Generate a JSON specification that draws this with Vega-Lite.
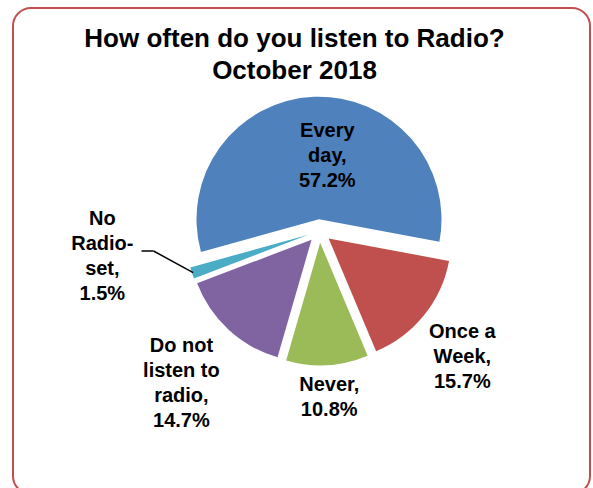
{
  "$schema": "https://vega.github.io/schema/vega-lite/v6.json",
  "width": 577,
  "height": 486,
  "autosize": {"type": "none"},
  "padding": {"left": 13, "top": 8, "right": 3, "bottom": 0},
  "background": "white",
  "view": {"stroke": "#C0504D", "strokeWidth": 2, "cornerRadius": 18, "fill": "white"},
  "config": {
    "view": {"stroke": "#C0504D", "strokeWidth": 2, "cornerRadius": 18},
    "font": "Liberation Sans"
  },
  "title": {
    "text": ["How often do you listen to Radio?", "October 2018"],
    "fontSize": 26,
    "fontWeight": "bold",
    "font": "Liberation Sans",
    "color": "#000000",
    "lineHeight": 32,
    "anchor": "middle",
    "frame": "group",
    "offset": -121,
    "dx": -7,
    "dy": 39
  },
  "data": {
    "values": [
      {"category": "Every day", "share": 57.2, "rank": 1, "label": "Every\nday,\n57.2%"},
      {"category": "Once a Week", "share": 15.7, "rank": 2, "label": "Once a\nWeek,\n15.7%"},
      {"category": "Never", "share": 10.8, "rank": 3, "label": "Never,\n10.8%"},
      {"category": "Do not listen to radio", "share": 14.7, "rank": 4, "label": "Do not\nlisten to\nradio,\n14.7%"},
      {"category": "No Radio-set", "share": 1.5, "rank": 5, "label": "No\nRadio-\nset,\n1.5%"}
    ]
  },
  "layer": [
    {
      "mark": {
        "type": "arc",
        "outerRadius": 122.5,
        "x": {"expr": "width/2+18+11.75*sin((scale('theta',datum.share_start)+scale('theta',datum.share_end))/2)"},
        "y": {"expr": "height/2-20-11.75*cos((scale('theta',datum.share_start)+scale('theta',datum.share_end))/2)"}
      },
      "encoding": {
        "theta": {"field": "share", "type": "quantitative", "stack": true, "scale": {"range": [4.4418, 10.725]}},
        "order": {"field": "rank", "type": "quantitative"},
        "color": {
          "field": "category",
          "type": "nominal",
          "scale": {
            "domain": ["Every day", "Once a Week", "Never", "Do not listen to radio", "No Radio-set"],
            "range": ["#4F81BD", "#C0504D", "#9BBB59", "#8064A2", "#4BACC6"]
          },
          "legend": null
        }
      }
    },
    {
      "transform": [
        {"stack": "share", "groupby": [], "sort": [{"field": "rank", "order": "ascending"}], "as": ["s0", "s1"]},
        {"filter": "datum.category === 'No Radio-set'"}
      ],
      "mark": {"type": "rule", "color": "#000000", "strokeWidth": 1.5},
      "encoding": {
        "x": {"value": {"expr": "width/2+18+133*sin((scale('theta',datum.s0)+scale('theta',datum.s1))/2)"}},
        "y": {"value": {"expr": "height/2-20-133*cos((scale('theta',datum.s0)+scale('theta',datum.s1))/2)"}},
        "x2": {"value": {"expr": "width/2+18-166"}},
        "y2": {"value": {"expr": "height/2-20+20"}}
      }
    },
    {
      "transform": [{"filter": "datum.category === 'No Radio-set'"}],
      "mark": {"type": "rule", "color": "#000000", "strokeWidth": 1.5},
      "encoding": {
        "x": {"value": {"expr": "width/2+18-178"}},
        "y": {"value": {"expr": "height/2-20+20"}},
        "x2": {"value": {"expr": "width/2+18-166"}},
        "y2": {"value": {"expr": "height/2-20+20"}}
      }
    },
    {
      "mark": {"type": "text", "radius": 75, "dx": 11, "dy": -25, "fontSize": 20, "fontWeight": "bold", "color": "#000000", "lineBreak": "\n", "lineHeight": 25, "align": "center", "baseline": "middle", "x": {"expr": "width/2+18"}, "y": {"expr": "height/2-20"}},
      "encoding": {
        "theta": {"field": "share", "type": "quantitative", "stack": true},
        "order": {"field": "rank", "type": "quantitative"},
        "text": {"condition": {"test": "datum.category !== 'Every day'", "value": ""}, "field": "label", "type": "nominal"}
      }
    },
    {
      "mark": {"type": "text", "radius": 190, "dx": -5, "dy": -18, "fontSize": 20, "fontWeight": "bold", "color": "#000000", "lineBreak": "\n", "lineHeight": 25, "align": "center", "baseline": "middle", "x": {"expr": "width/2+18"}, "y": {"expr": "height/2-20"}},
      "encoding": {
        "theta": {"field": "share", "type": "quantitative", "stack": true},
        "order": {"field": "rank", "type": "quantitative"},
        "text": {"condition": {"test": "datum.category !== 'Once a Week'", "value": ""}, "field": "label", "type": "nominal"}
      }
    },
    {
      "mark": {"type": "text", "radius": 167, "dy": -12.5, "fontSize": 20, "fontWeight": "bold", "color": "#000000", "lineBreak": "\n", "lineHeight": 25, "align": "center", "baseline": "middle", "x": {"expr": "width/2+18"}, "y": {"expr": "height/2-20"}},
      "encoding": {
        "theta": {"field": "share", "type": "quantitative", "stack": true},
        "order": {"field": "rank", "type": "quantitative"},
        "text": {"condition": {"test": "datum.category !== 'Never'", "value": ""}, "field": "label", "type": "nominal"}
      }
    },
    {
      "mark": {"type": "text", "radius": 204, "dy": -35, "fontSize": 20, "fontWeight": "bold", "color": "#000000", "lineBreak": "\n", "lineHeight": 25, "align": "center", "baseline": "middle", "x": {"expr": "width/2+18"}, "y": {"expr": "height/2-20"}},
      "encoding": {
        "theta": {"field": "share", "type": "quantitative", "stack": true},
        "order": {"field": "rank", "type": "quantitative"},
        "text": {"condition": {"test": "datum.category !== 'Do not listen to radio'", "value": ""}, "field": "label", "type": "nominal"}
      }
    },
    {
      "mark": {"type": "text", "radius": 217, "dx": -11, "dy": -80, "fontSize": 20, "fontWeight": "bold", "color": "#000000", "lineBreak": "\n", "lineHeight": 25, "align": "center", "baseline": "middle", "x": {"expr": "width/2+18"}, "y": {"expr": "height/2-20"}},
      "encoding": {
        "theta": {"field": "share", "type": "quantitative", "stack": true},
        "order": {"field": "rank", "type": "quantitative"},
        "text": {"condition": {"test": "datum.category !== 'No Radio-set'", "value": ""}, "field": "label", "type": "nominal"}
      }
    }
  ]
}
